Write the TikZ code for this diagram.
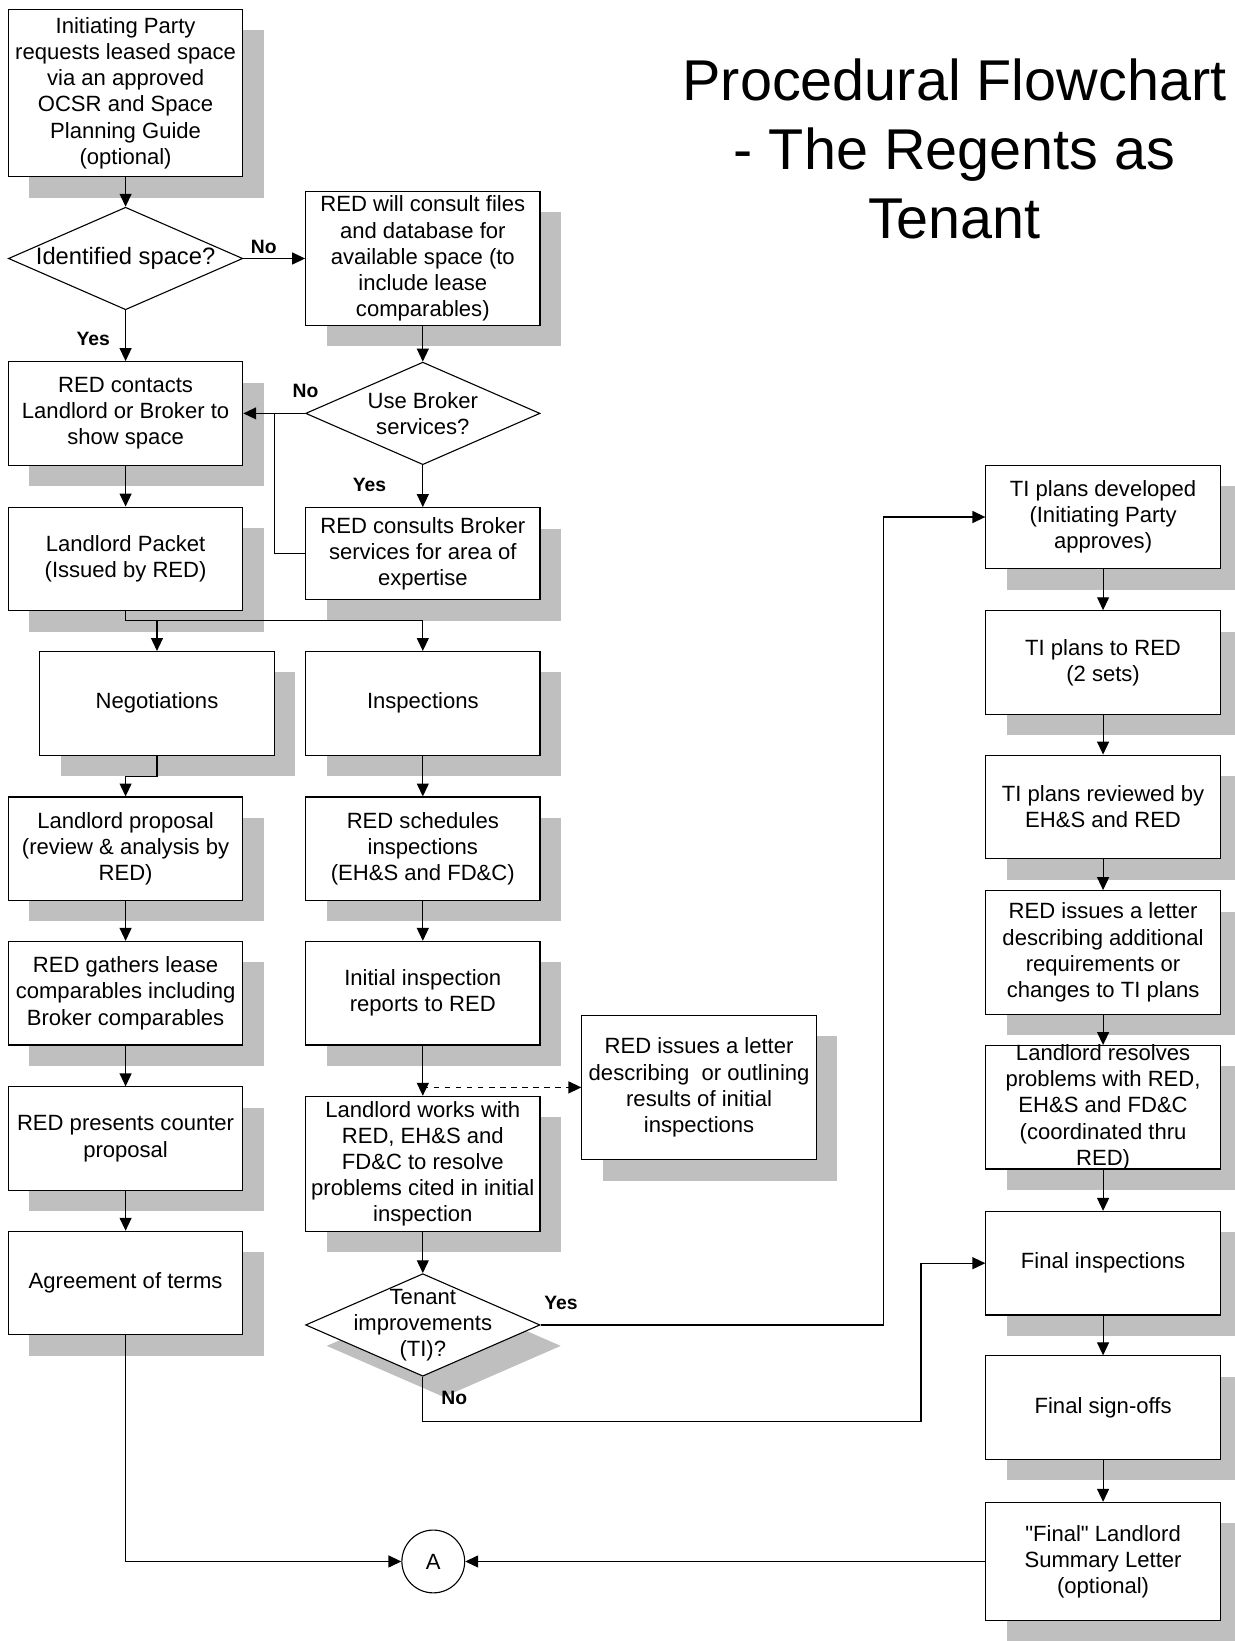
\documentclass[tikz,border=0pt]{standalone}
\usepackage{fontspec}
\setmainfont{Liberation Sans}[Ligatures=TeXOff]
\usetikzlibrary{arrows.meta,shapes.geometric,shadows}

\newcommand{\boxfont}{\fontsize{12}{14.2}\selectfont}

\begin{document}
\begin{tikzpicture}[
    x=0.02cm,
    y=-0.02cm,
    >={Triangle[length=7pt,width=6.5pt]},
    boxshadow/.style={
        general shadow={fill=black!25, shadow xshift=0.4cm, shadow yshift=-0.4cm}
    },
    process/.style={
        draw,
        fill=white,
        line width=0.6pt,
        align=center,
        minimum width=4.48cm,
        minimum height=1.98cm,
        inner sep=0pt,
        font=\boxfont,
        boxshadow
    },
    decision/.style={
        draw,
        diamond,
        fill=white,
        line width=0.6pt,
        aspect=2.29,
        align=center,
        minimum width=4.48cm,
        minimum height=1.96cm,
        inner sep=0pt,
        font=\boxfont
    },
    connector/.style={
        draw,
        circle,
        fill=white,
        line width=0.6pt,
        minimum size=1.2cm,
        inner sep=0pt,
        font=\boxfont
    },
    arrow/.style={->, line width=0.6pt},
    wire/.style={line width=0.6pt},
    answer/.style={font=\bfseries\fontsize{10.5}{12}\selectfont},
    heading/.style={align=center, font=\fontsize{31.3}{37.5}\selectfont}
]

\useasboundingbox (0,0) rectangle (1180,1568);
\fill[white] (0,0) rectangle (1180,1568);

% ============================================================
% Title
% ============================================================

\node[heading] (title) at (912,142)
{Procedural Flowchart\\- The Regents as\\Tenant};

% ============================================================
% Left column: request and negotiations
% ============================================================

\node[process, minimum height=3.2cm] (init) at (120,89)
    {Initiating Party\\requests leased space\\via an approved\\OCSR and Space\\Planning Guide\\(optional)};

\node[decision, font=\fontsize{12.9}{15}\selectfont] (ident) at (120,247)
    {Identified space?};

\node[process] (contact) at (120,395)
    {RED contacts\\Landlord or Broker to\\show space};

\node[process] (packet) at (120,534)
    {Landlord Packet\\(Issued by RED)};

\node[process] (negot) at (150,672)
    {Negotiations};

\node[process] (proposal) at (120,811)
    {Landlord proposal\\(review \& analysis by\\RED)};

\node[process] (gather) at (120,949)
    {RED gathers lease\\comparables including\\Broker comparables};

\node[process] (counter) at (120,1088)
    {RED presents counter\\proposal};

\node[process] (agree) at (120,1226)
    {Agreement of terms};

% ============================================================
% Middle column: broker and inspections
% ============================================================

\node[process, minimum height=2.56cm] (consult) at (404,247)
    {RED will consult files\\and database for\\available space (to\\include lease\\comparables)};

\node[decision] (broker) at (404,395)
    {Use Broker\\services?};

\node[process, minimum height=1.76cm] (brokersvc) at (404,529)
    {RED consults Broker\\services for area of\\expertise};

\node[process] (inspect) at (404,672)
    {Inspections};

\node[process] (schedule) at (404,811)
    {RED schedules\\inspections\\(EH\&S and FD\&C)};

\node[process] (initial) at (404,949)
    {Initial inspection\\reports to RED};

\node[process, minimum height=2.58cm] (works) at (404,1112)
    {Landlord works with\\RED, EH\&S and\\FD\&C to resolve\\problems cited in initial\\inspection};

\node[
    decision,
    boxshadow,
    label={[align=center, font=\boxfont]center:Tenant\\improvements\\(TI)?}
] (ti) at (404,1266) {};

\node[process, minimum height=2.76cm] (letter) at (668,1039)
    {RED issues a letter\\describing~ or outlining\\results of initial\\inspections};

% ============================================================
% Right column: tenant improvements
% ============================================================

\node[process] (tidev) at (1054,494)
    {TI plans developed\\(Initiating Party\\approves)};

\node[process] (tired) at (1054,633)
    {TI plans to RED\\(2 sets)};

\node[process] (tirev) at (1054,771)
    {TI plans reviewed by\\EH\&S and RED};

\node[process, minimum height=2.36cm] (tiletter) at (1054,910)
    {RED issues a letter\\describing additional\\requirements or\\changes to TI plans};

\node[process, minimum height=2.36cm, inner ysep=-3pt] (resolve) at (1054,1058)
    {Landlord resolves\\problems with RED,\\EH\&S and FD\&C\\(coordinated thru\\RED)};

\node[process] (finalinsp) at (1054,1207)
    {Final inspections};

\node[process] (signoff) at (1054,1345)
    {Final sign-offs};

\node[process, minimum height=2.26cm] (summary) at (1054,1492)
    {"Final" Landlord\\Summary Letter\\(optional)};

\node[connector] (conA) at (414,1492) {A};

% ============================================================
% Arrows
% ============================================================

\draw[arrow] (init) -- (ident);
\draw[arrow] (ident) -- (consult);
\draw[arrow] (ident) -- (contact);
\draw[arrow] (consult) -- (broker);
\draw[arrow] (broker) -- (contact);
\draw[arrow] (broker) -- (brokersvc);

\coordinate (svcjoin) at (262,395);
\draw[wire] (brokersvc.west) -| (svcjoin);

\draw[arrow] (contact) -- (packet);

% Packet splits into negotiations and inspections
\coordinate (split) at (404,593);
\draw[arrow] (packet.south) |- (split) -- (inspect.north);
\draw[arrow] (negot.north |- split) -- (negot.north);

\draw[arrow] (negot.south) -- ++(0,20) -| (proposal.north);
\draw[arrow] (proposal) -- (gather);
\draw[arrow] (gather) -- (counter);
\draw[arrow] (counter) -- (agree);
\draw[arrow] (agree.south) |- (conA.west);

\draw[arrow] (inspect) -- (schedule);
\draw[arrow] (schedule) -- (initial);
\draw[arrow] (initial) -- (works);

\coordinate (dashfrom) at (404,1039);
\draw[arrow, dashed] (dashfrom) -- (letter.west);

\draw[arrow] (works) -- (ti);

\coordinate (yesturn) at (844,1266);
\draw[arrow] (ti.east) -- (yesturn) |- (tidev.west);

\coordinate (noturn) at (880,1358);
\draw[arrow] (ti.south) |- (noturn) |- (finalinsp.west);

\draw[arrow] (tidev) -- (tired);
\draw[arrow] (tired) -- (tirev);
\draw[arrow] (tirev) -- (tiletter);
\draw[arrow] (tiletter) -- (resolve);
\draw[arrow] (resolve) -- (finalinsp);
\draw[arrow] (finalinsp) -- (signoff);
\draw[arrow] (signoff) -- (summary);
\draw[arrow] (summary) -- (conA);

% ============================================================
% Yes / No labels
% ============================================================

\node[answer] (noident) at (252,236) {No};
\node[answer] (yesident) at (89,324) {Yes};
\node[answer] (nobroker) at (292,374) {No};
\node[answer] (yesbroker) at (353,463) {Yes};
\node[answer] (yesti) at (536,1245) {Yes};
\node[answer] (noti) at (434,1336) {No};

\end{tikzpicture}
\end{document}
